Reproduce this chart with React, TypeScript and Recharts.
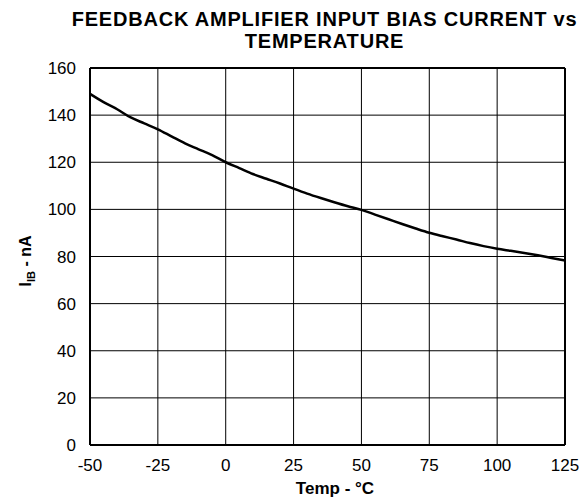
import React from "react";
import { CartesianGrid, Line, LineChart, ReferenceLine, XAxis, YAxis } from "recharts";

const temps = [
  -50, -45, -40, -35, -30, -25, -20, -15, -10, -5, 0, 5, 10, 15, 20, 25, 30, 35, 40, 45, 50, 55, 60, 65, 70, 75, 80, 85,
  90, 95, 100, 105, 110, 115, 120, 125,
];
const biasCurrent = [
  149, 145.5, 142.5, 139, 136.5, 134, 131, 128, 125.5, 123, 120, 117.5, 115, 113, 111, 108.8, 106.7, 104.8, 103, 101.3,
  99.8, 97.8, 95.8, 93.8, 91.9, 90.1, 88.6, 87.2, 85.7, 84.4, 83.3, 82.4, 81.5, 80.5, 79.4, 78.3,
];
const xTicks = [-50, -25, 0, 25, 50, 75, 100, 125];
const yTicks = [0, 20, 40, 60, 80, 100, 120, 140, 160];

const data = temps.map((t, i) => ({ temp: t, ib: biasCurrent[i] }));

const font = "'Liberation Sans', Arial, sans-serif";

// y axis title with subscript
const YLabel = () => (
  <text
    x={0}
    y={0}
    transform="translate(31, 261) rotate(-90)"
    textAnchor="middle"
    fontFamily={font}
    fontWeight="bold"
    fontSize={16}
    fill="#000"
  >
    I<tspan fontSize={11} dy={4}>IB</tspan>
    <tspan dy={-4}> - nA</tspan>
  </text>
);

const XLabel = () => (
  <text x={335} y={494} textAnchor="middle" fontFamily={font} fontWeight="bold" fontSize={17} fill="#000">
    Temp - °C
  </text>
);

export default function App() {
  return (
    <div style={{ position: "absolute", left: 0, top: 0, width: 587, height: 499, background: "#fff", fontFamily: font }}>
      <div
        style={{
          position: "absolute",
          left: 0,
          top: 8,
          width: 649,
          textAlign: "center",
          fontWeight: "bold",
          fontSize: 20,
          letterSpacing: 0.8,
          lineHeight: "22px",
          color: "#000",
          whiteSpace: "nowrap",
        }}
      >
        FEEDBACK AMPLIFIER INPUT BIAS CURRENT vs
        <br />
        TEMPERATURE
      </div>
      <LineChart width={587} height={499} data={data} margin={{ top: 68, right: 22, bottom: 24, left: 50 }}>
        <CartesianGrid stroke="#000" strokeWidth={1} />
        <XAxis
          dataKey="temp"
          type="number"
          domain={[-50, 125]}
          ticks={xTicks}
          tickLine={false}
          axisLine={{ stroke: "#000", strokeWidth: 2 }}
          tick={{ fill: "#000", fontSize: 17, fontFamily: font }}
          tickMargin={8}
          height={30}
          label={<XLabel />}
        />
        <YAxis
          type="number"
          domain={[0, 160]}
          ticks={yTicks}
          tickLine={false}
          axisLine={{ stroke: "#000", strokeWidth: 2 }}
          tick={{ fill: "#000", fontSize: 17, fontFamily: font }}
          tickMargin={8}
          width={40}
          label={<YLabel />}
        />
        <ReferenceLine y={160} stroke="#000" strokeWidth={2} />
        <ReferenceLine x={125} stroke="#000" strokeWidth={2} />
        <Line
          type="monotone"
          dataKey="ib"
          stroke="#000"
          strokeWidth={2.5}
          dot={false}
          isAnimationActive={false}
        />
      </LineChart>
    </div>
  );
}
